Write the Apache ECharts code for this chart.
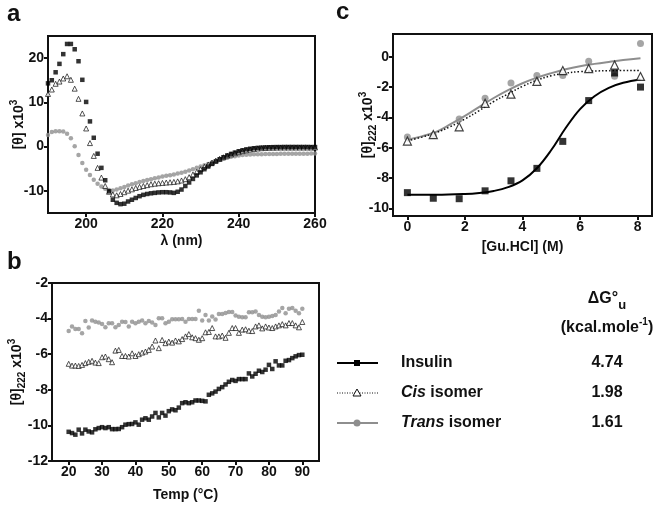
<!DOCTYPE html>
<html><head><meta charset="utf-8">
<script src="https://cdn.jsdelivr.net/npm/echarts@6/dist/echarts.min.js"></script>
<style>html,body{margin:0;padding:0;background:#fff}#c{width:660px;height:509px}</style>
</head><body><div id="c"></div>
<script>
// ---- Panel a: CD spectra (wavelength 190..260 nm, 1 nm step) ----
const wavelengthStart = 190, wavelengthEnd = 260;
const insulinCD = [14.3,15.0,16.8,18.7,20.9,23.2,23.2,22.0,19.3,15.1,10.1,5.7,2.0,-1.6,-4.8,-7.6,-10.1,-12.0,-12.7,-13.0,-12.9,-12.4,-12.0,-11.6,-11.2,-10.9,-10.7,-10.55,-10.45,-10.35,-10.3,-10.3,-10.35,-10.45,-10.2,-9.7,-8.9,-8.1,-7.3,-6.5,-5.8,-5.1,-4.5,-3.9,-3.35,-2.85,-2.4,-2.0,-1.65,-1.35,-1.05,-0.82,-0.62,-0.48,-0.37,-0.28,-0.22,-0.17,-0.14,-0.12,-0.1,-0.1,-0.08,-0.08,-0.08,-0.08,-0.08,-0.08,-0.08,-0.1,-0.1];
const cisCD = [11.9,12.9,14.2,14.7,15.4,15.9,15.1,13.1,10.8,7.5,4.1,0.8,-2.1,-4.8,-7.0,-8.9,-10.2,-10.8,-11.0,-10.7,-10.3,-9.95,-9.65,-9.35,-9.1,-8.9,-8.7,-8.5,-8.38,-8.28,-8.2,-8.12,-8.05,-7.98,-7.85,-7.65,-7.35,-6.9,-6.3,-5.7,-5.1,-4.55,-4.05,-3.6,-3.15,-2.75,-2.4,-2.05,-1.75,-1.48,-1.25,-1.02,-0.82,-0.65,-0.52,-0.42,-0.35,-0.3,-0.26,-0.24,-0.22,-0.2,-0.2,-0.2,-0.2,-0.2,-0.2,-0.2,-0.2,-0.2,-0.2];
const transCD = [2.6,3.3,3.5,3.5,3.4,2.9,1.9,0.1,-1.9,-3.7,-5.2,-6.4,-7.5,-8.4,-9.0,-9.5,-9.8,-9.9,-9.7,-9.4,-9.1,-8.8,-8.5,-8.25,-8.0,-7.75,-7.55,-7.35,-7.15,-6.95,-6.75,-6.6,-6.45,-6.3,-6.1,-5.9,-5.65,-5.4,-5.1,-4.8,-4.5,-4.2,-3.9,-3.6,-3.3,-3.0,-2.75,-2.5,-2.3,-2.15,-2.0,-1.9,-1.85,-1.8,-1.75,-1.72,-1.7,-1.68,-1.66,-1.65,-1.64,-1.63,-1.62,-1.62,-1.61,-1.6,-1.6,-1.6,-1.59,-1.58,-1.58];
const aXTicks = [200,220,240,260];
const aYTicks = [-10,0,10,20];

// ---- Panel b: thermal melt (20..90 C, 1 C step) ----
const tempStart = 20, tempEnd = 90;
const insulinT = [-10.36,-10.43,-10.52,-10.24,-10.45,-10.24,-10.34,-10.39,-10.22,-10.15,-10.1,-10.15,-10.1,-10.21,-10.21,-10.2,-10.1,-9.96,-9.93,-9.92,-9.83,-9.96,-9.68,-9.6,-9.68,-9.5,-9.3,-9.55,-9.3,-9.45,-9.2,-9.1,-9.15,-9.0,-8.75,-8.7,-8.75,-8.7,-8.6,-8.6,-8.62,-8.65,-8.28,-8.2,-8.1,-7.95,-7.85,-7.7,-7.55,-7.45,-7.5,-7.4,-7.4,-7.4,-7.08,-7.25,-7.1,-6.93,-7.0,-6.87,-6.6,-6.83,-6.4,-6.63,-6.63,-6.37,-6.33,-6.22,-6.12,-6.05,-6.03];
const cisT = [-6.54,-6.64,-6.64,-6.66,-6.6,-6.5,-6.43,-6.37,-6.47,-6.5,-6.17,-6.13,-6.28,-6.45,-5.8,-5.76,-6.1,-6.1,-6.13,-5.95,-6.1,-6.0,-5.91,-5.85,-5.76,-5.57,-5.23,-5.66,-5.2,-5.38,-5.29,-5.35,-5.23,-5.28,-5.15,-5.0,-4.87,-5.05,-5.1,-5.19,-5.1,-4.77,-4.75,-4.53,-5.0,-5.0,-4.95,-5.08,-4.8,-4.53,-4.53,-4.8,-4.62,-4.6,-4.68,-4.7,-4.44,-4.38,-4.55,-4.44,-4.5,-4.53,-4.44,-4.38,-4.31,-4.38,-4.25,-4.25,-4.38,-4.49,-4.19];
const transT = [-4.69,-4.45,-4.58,-4.58,-4.82,-4.13,-4.5,-4.11,-4.17,-4.22,-4.3,-4.49,-4.26,-4.26,-4.49,-4.36,-4.17,-4.19,-4.45,-4.17,-4.26,-4.17,-4.11,-4.26,-4.13,-4.22,-4.36,-3.98,-3.98,-4.26,-4.17,-4.04,-4.04,-4.04,-4.02,-4.17,-4.02,-4.02,-4.02,-3.56,-4.1,-3.8,-4.1,-3.88,-4.05,-3.74,-3.74,-3.69,-3.63,-3.63,-3.82,-3.9,-3.93,-3.93,-3.65,-3.65,-3.6,-3.8,-3.9,-3.93,-3.9,-3.85,-3.8,-3.6,-3.41,-3.7,-3.44,-3.41,-3.56,-3.7,-3.44];
const bXTicks = [20,30,40,50,60,70,80,90];

// ---- Panel c: GuHCl denaturation ----
const guhcl = [0,0.9,1.8,2.7,3.6,4.5,5.4,6.3,7.2,8.1];
const insulinG = [-8.96,-9.33,-9.36,-8.84,-8.18,-7.36,-5.58,-2.89,-1.07,-2.0];
const cisG = [-5.56,-5.13,-4.62,-3.07,-2.47,-1.62,-0.91,-0.78,-0.55,-1.3];
const transG = [-5.29,-5.18,-4.11,-2.73,-1.73,-1.24,-1.24,-0.3,-1.28,0.88];
// fitted curves
const insulinFitX = [0,1,2,2.5,3,3.5,4,4.5,5,5.5,6,6.5,7,7.5,8.1];
const insulinFitY = [-9.1,-9.1,-9.05,-8.98,-8.85,-8.6,-8.15,-7.35,-6.15,-4.7,-3.45,-2.6,-2.05,-1.72,-1.5];
const cisFitX = [0,0.5,1,1.5,2,2.5,3,3.5,4,4.5,5,5.5,6,7,8.1];
const cisFitY = [-5.55,-5.3,-5.0,-4.6,-4.1,-3.55,-2.95,-2.45,-1.95,-1.55,-1.25,-1.08,-0.98,-0.92,-0.9];
const transFitX = [0,0.5,1,1.5,2,2.5,3,3.5,4,4.5,5,5.5,6,6.5,7,7.5,8.1];
const transFitY = [-5.47,-5.25,-4.95,-4.45,-3.9,-3.3,-2.72,-2.2,-1.75,-1.38,-1.08,-0.82,-0.62,-0.47,-0.34,-0.22,-0.1];
const cXTicks = [0,2,4,6,8];
const cYTicks = [-10,-8,-6,-4,-2,0];

// ---- Legend / table ----
const seriesNames = ['Insulin','Cis','Trans'];
const deltaG = ['4.74','1.98','1.61'];

function range(a,b){const r=[];for(let v=a;v<=b;v++)r.push(v);return r;}
function pairs(xs,ys){return xs.map((x,i)=>[x,ys[i]]);}
const wl = range(wavelengthStart, wavelengthEnd);
const tp = range(tempStart, tempEnd);

const FONT = 'Liberation Sans, Arial, sans-serif';
const GRAY = '#8e8e8e';
const labelStyle = {color:'#111', fontWeight:'bold', fontSize:14, fontFamily:FONT};
const nameStyleBase = {color:'#111', fontWeight:'bold', fontSize:14, fontFamily:FONT,
  rich:{
    sub:{fontSize:10, fontWeight:'bold', fontFamily:FONT, color:'#111', verticalAlign:'bottom', lineHeight:20},
    sup:{fontSize:10, fontWeight:'bold', fontFamily:FONT, color:'#111', verticalAlign:'top', lineHeight:20}
  }};

function vAxis(gridIndex, min, max, ticks, opts){
  return Object.assign({
    type:'value', gridIndex, min, max,
    axisLine:{show:true, onZero:false, lineStyle:{color:'#111', width:2}},
    axisTick:{show:true, length:4, inside:false, lineStyle:{color:'#111', width:2}, customValues:ticks},
    axisLabel:Object.assign({margin:4, customValues:ticks}, labelStyle),
    splitLine:{show:false},
    nameLocation:'middle',
    nameMoveOverlap:false,
    nameTextStyle:nameStyleBase
  }, opts||{});
}

const gridBox = {show:true, borderColor:'#111', borderWidth:2, backgroundColor:'transparent', containLabel:false};

const option = {
  animation:false,
  backgroundColor:'#fff',
  grid:[
    Object.assign({left:48, top:36, width:267, height:177}, gridBox),
    Object.assign({left:52, top:283, width:267, height:178}, gridBox),
    Object.assign({left:393, top:34, width:259, height:182}, gridBox)
  ],
  xAxis:[
    vAxis(0,190,260,aXTicks,{name:'λ (nm)', nameGap:21}),
    vAxis(1,15,95,bXTicks,{name:'Temp (°C)', nameGap:27}),
    vAxis(2,-0.5,8.5,cXTicks,{name:'[Gu.HCl] (M)', nameGap:24})
  ],
  yAxis:[
    vAxis(0,-15,25,aYTicks,{name:'[θ] x10{sup|3}', nameGap:19}),
    vAxis(1,-12,-2,null,{interval:2, name:'[θ]{sub|222} x10{sup|3}', nameGap:25,
      axisTick:{show:true, length:4, lineStyle:{color:'#111', width:2}},
      axisLabel:Object.assign({margin:4}, labelStyle)}),
    vAxis(2,-10.5,1.5,cYTicks,{name:'[θ]{sub|222} x10{sup|3}', nameGap:15})
  ],
  series:[
    // panel a
    {type:'scatter', xAxisIndex:0, yAxisIndex:0, data:pairs(wl,transCD), symbol:'circle', symbolSize:4.5, itemStyle:{color:GRAY}},
    {type:'scatter', xAxisIndex:0, yAxisIndex:0, data:pairs(wl,cisCD), symbol:'triangle', symbolSize:5, itemStyle:{color:'#fff', borderColor:'#111', borderWidth:0.9}},
    {type:'scatter', xAxisIndex:0, yAxisIndex:0, data:pairs(wl,insulinCD), symbol:'rect', symbolSize:4.5, itemStyle:{color:'#000'}},
    // panel b
    {type:'scatter', xAxisIndex:1, yAxisIndex:1, data:pairs(tp,transT), symbol:'circle', symbolSize:4.5, itemStyle:{color:GRAY}},
    {type:'scatter', xAxisIndex:1, yAxisIndex:1, data:pairs(tp,cisT), symbol:'triangle', symbolSize:5, itemStyle:{color:'#fff', borderColor:'#111', borderWidth:0.9}},
    {type:'scatter', xAxisIndex:1, yAxisIndex:1, data:pairs(tp,insulinT), symbol:'rect', symbolSize:4.5, itemStyle:{color:'#000'}},
    // panel c fits
    {type:'line', xAxisIndex:2, yAxisIndex:2, data:pairs(transFitX,transFitY), smooth:0.4, showSymbol:false, lineStyle:{color:GRAY, width:2}},
    {type:'line', xAxisIndex:2, yAxisIndex:2, data:pairs(cisFitX,cisFitY), smooth:0.4, showSymbol:false, lineStyle:{color:'#111', width:1.5, type:[1.5,2]}},
    {type:'line', xAxisIndex:2, yAxisIndex:2, data:pairs(insulinFitX,insulinFitY), smooth:0.4, showSymbol:false, lineStyle:{color:'#000', width:2}},
    // panel c points
    {type:'scatter', xAxisIndex:2, yAxisIndex:2, data:pairs(guhcl,transG), symbol:'circle', symbolSize:7, itemStyle:{color:GRAY}, z:3},
    {type:'scatter', xAxisIndex:2, yAxisIndex:2, data:pairs(guhcl,cisG), symbol:'triangle', symbolSize:8, itemStyle:{color:'#fff', borderColor:'#111', borderWidth:1.2}, z:3},
    {type:'scatter', xAxisIndex:2, yAxisIndex:2, data:pairs(guhcl,insulinG), symbol:'rect', symbolSize:7, itemStyle:{color:'#000'}, z:3}
  ],
  graphic:[
    {type:'text', left:7, top:2, style:{text:'a', font:'bold 24px '+FONT, fill:'#111'}},
    {type:'text', left:7, top:250, style:{text:'b', font:'bold 24px '+FONT, fill:'#111'}},
    {type:'text', left:336, top:0, style:{text:'c', font:'bold 24px '+FONT, fill:'#111'}},
    // table header
    {type:'text', x:607, y:299, style:{text:'ΔG°{sub|u}', align:'center', verticalAlign:'middle', fill:'#111', font:'bold 16px '+FONT,
      rich:{sub:{font:'bold 13px '+FONT, fill:'#111', verticalAlign:'bottom', lineHeight:26}}}},
    {type:'text', x:607, y:328, style:{text:'(kcal.mole{sup|-1})', align:'center', verticalAlign:'middle', fill:'#111', font:'bold 16px '+FONT,
      rich:{sup:{font:'bold 10px '+FONT, fill:'#111', verticalAlign:'top', lineHeight:22}}}},
    // legend samples
    {type:'line', shape:{x1:337, y1:363, x2:378, y2:363}, style:{stroke:'#000', lineWidth:2}},
    {type:'rect', shape:{x:354, y:360, width:6, height:6}, style:{fill:'#000'}},
    {type:'line', shape:{x1:337, y1:393, x2:378, y2:393}, style:{stroke:'#111', lineWidth:1, lineDash:[1,1.5]}},
    {type:'polygon', shape:{points:[[357,389],[353,396],[361,396]]}, style:{fill:'#fff', stroke:'#111', lineWidth:1}},
    {type:'line', shape:{x1:337, y1:423, x2:378, y2:423}, style:{stroke:GRAY, lineWidth:2}},
    {type:'circle', shape:{cx:357, cy:423, r:3.5}, style:{fill:GRAY}},
    // legend names
    {type:'text', x:401, y:363, style:{text:seriesNames[0], verticalAlign:'middle', fill:'#111', font:'bold 16px '+FONT}},
    {type:'text', x:401, y:393, style:{text:'{i|'+seriesNames[1]+'} isomer', verticalAlign:'middle', fill:'#111', font:'bold 16px '+FONT,
      rich:{i:{font:'italic bold 16px '+FONT, fill:'#111'}}}},
    {type:'text', x:401, y:423, style:{text:'{i|'+seriesNames[2]+'} isomer', verticalAlign:'middle', fill:'#111', font:'bold 16px '+FONT,
      rich:{i:{font:'italic bold 16px '+FONT, fill:'#111'}}}},
    // values
    {type:'text', x:607, y:363, style:{text:deltaG[0], align:'center', verticalAlign:'middle', fill:'#111', font:'bold 16px '+FONT}},
    {type:'text', x:607, y:393, style:{text:deltaG[1], align:'center', verticalAlign:'middle', fill:'#111', font:'bold 16px '+FONT}},
    {type:'text', x:607, y:423, style:{text:deltaG[2], align:'center', verticalAlign:'middle', fill:'#111', font:'bold 16px '+FONT}}
  ]
};
const chart = echarts.init(document.getElementById('c'), null, {renderer:'canvas'});
chart.setOption(option);
</script></body></html>
